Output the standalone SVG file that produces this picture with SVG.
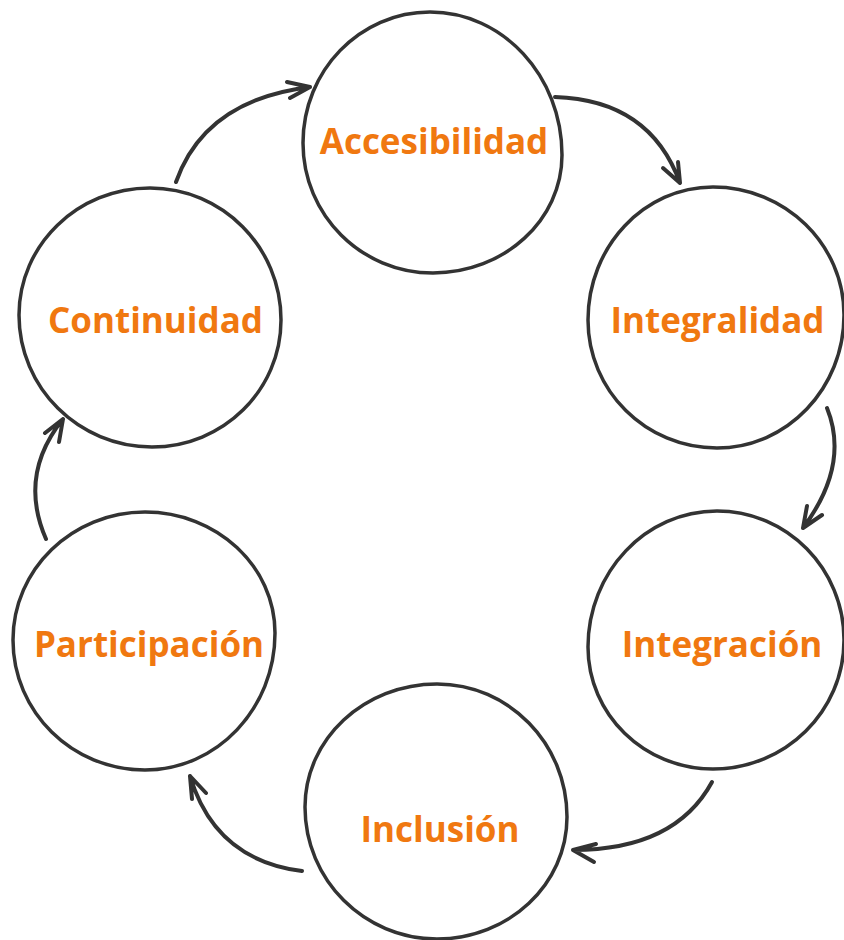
<svg xmlns="http://www.w3.org/2000/svg" width="844" height="940" viewBox="0 0 844 940">
<style>
.node{fill:#ffffff;stroke:#333333;stroke-width:3.5;stroke-linejoin:round}
.lbl{font-family:"Open Sans","Noto Sans","Liberation Sans",sans-serif;font-weight:700;font-size:35px;fill:#f07810;text-anchor:middle}
.edge{fill:none;stroke:#333333;stroke-width:4;stroke-linecap:round;stroke-linejoin:round}
</style>
<rect width="844" height="940" fill="#ffffff"/>
<g id="accesibilidad">
<path class="node" d="M430,12 C502.9,12 562,76.1 562,155 C562,220.1 504.2,273 433,273 C361.2,273 303,214.8 303,143 C303,70.7 359.9,12 430,12 Z"/>
<text class="lbl" x="434" y="154">Accesibilidad</text>
</g>
<g id="integralidad">
<path class="node" d="M713,187 C785.3,187 844,244.3 844,315 C844,388.4 787.1,448 717,448 C645.8,448 588,390.7 588,320 C588,246.6 644,187 713,187 Z"/>
<text class="lbl" x="717.5" y="333">Integralidad</text>
</g>
<g id="integracion">
<path class="node" d="M717,511 C787.1,511 844,568.8 844,640 C844,711.2 785.3,769 713,769 C644,769 588,714.3 588,647 C588,571.9 645.8,511 717,511 Z"/>
<text class="lbl" x="722" y="657">Integración</text>
</g>
<g id="inclusion">
<path class="node" d="M437,684 C508.8,684 567,743.6 567,817 C567,884.3 508.8,939 437,939 C364.1,939 305,879.9 305,807 C305,739.1 364.1,684 437,684 Z"/>
<text class="lbl" x="440" y="842">Inclusión</text>
</g>
<g id="participacion">
<path class="node" d="M145,512 C216.8,512 275,566.2 275,633 C275,708.6 216.8,770 145,770 C72.1,770 13,711.8 13,640 C13,569.3 72.1,512 145,512 Z"/>
<text class="lbl" x="149" y="657">Participación</text>
</g>
<g id="continuidad">
<path class="node" d="M150,188 C222.3,188 281,247.1 281,320 C281,390.1 223.2,447 152,447 C78.6,447 19,387.9 19,315 C19,244.9 77.7,188 150,188 Z"/>
<text class="lbl" x="155.5" y="333">Continuidad</text>
</g>
<g id="connectors">
<path class="edge" d="M176,182 Q205,100 310,87 M287,82 L310,87 L290,98"/>
<path class="edge" d="M555,97 Q650,100 680,183 M663,168 L680,183 L678,162"/>
<path class="edge" d="M827,408 Q850,465 803,528 M807,506 L803,528 L822,515"/>
<path class="edge" d="M712,782 Q675,850 573,850 M596,844 L573,850 L594,862"/>
<path class="edge" d="M302,871 Q215,860 190,776 M192,799 L190,776 L206,793"/>
<path class="edge" d="M46,539 Q18,475 63,419 M45,433 L63,419 L59,442"/>
</g>
</svg>
